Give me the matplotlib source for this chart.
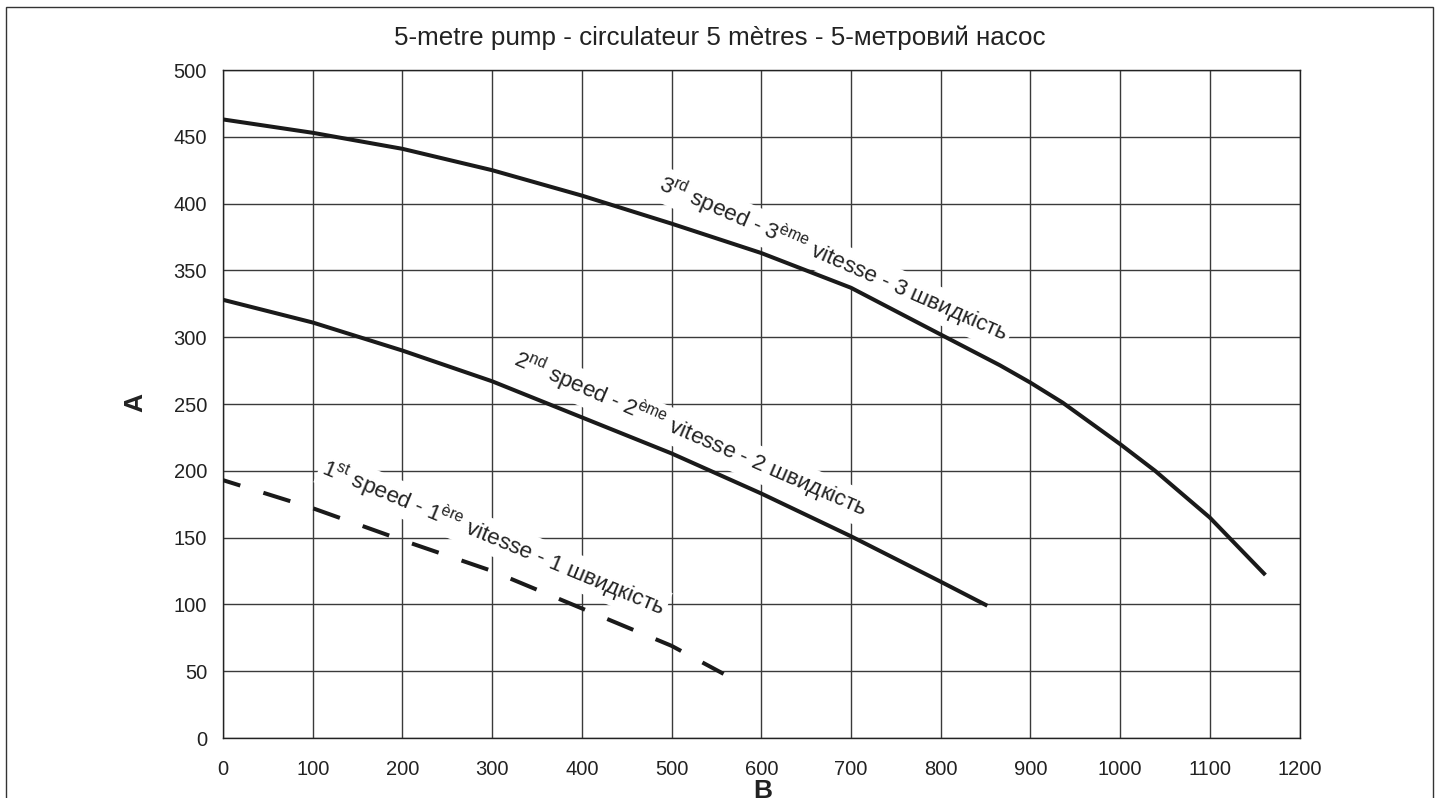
import matplotlib
matplotlib.use("Agg")
import matplotlib.pyplot as plt
from matplotlib.patches import Rectangle

plt.rcParams['font.family'] = ['Liberation Sans', 'DejaVu Sans']
plt.rcParams['mathtext.fontset'] = 'custom'
plt.rcParams['mathtext.rm'] = 'Liberation Sans'
plt.rcParams['mathtext.it'] = 'Liberation Sans:italic'
plt.rcParams['mathtext.bf'] = 'Liberation Sans:bold'

# flow (B) vs head (A)
speed3_x = [0, 100, 200, 300, 400, 500, 600, 700, 800, 866, 900, 936, 1000, 1039, 1100, 1162]
speed3_y = [463, 453, 441, 425, 406, 385, 363, 337, 302, 279, 266, 251, 220, 200, 165, 122]

speed2_x = [0, 100, 200, 300, 400, 500, 600, 700, 800, 852]
speed2_y = [328, 311, 290, 267, 240, 213, 183, 151, 117, 99]

speed1_x = [0, 100, 200, 300, 400, 500, 558]
speed1_y = [193, 172, 148, 125, 97, 69, 48]

x_ticks = list(range(0, 1201, 100))
y_ticks = list(range(0, 501, 50))

title = "5-metre pump - circulateur 5 mètres - 5-метровий насос"
label3 = r"3$^{\mathrm{rd}}$ speed - 3$^{\mathrm{ème}}$ vitesse - 3 швидкість"
label2 = r"2$^{\mathrm{nd}}$ speed - 2$^{\mathrm{ème}}$ vitesse - 2 швидкість"
label1 = r"1$^{\mathrm{st}}$ speed - 1$^{\mathrm{ère}}$ vitesse - 1 швидкість"

W, H = 1439, 798
fig = plt.figure(figsize=(W / 100, H / 100), dpi=100)
ax = fig.add_axes([223 / W, 1 - 738 / H, (1299.5 - 223) / W, (738 - 70) / H])

# outer frame (bottom edge is cut off in the original)
fig.patches.append(Rectangle((6 / W, -0.1), (1433 - 6) / W, 1.1 - 7 / H,
                             transform=fig.transFigure, fill=False,
                             ec='#333333', lw=1.0))

ax.set_xlim(0, 1200)
ax.set_ylim(0, 500)
ax.set_xticks(x_ticks)
ax.set_yticks(y_ticks)
ax.tick_params(length=0, labelsize=14.5, labelcolor='#222222')
ax.tick_params(axis='x', pad=16)
ax.tick_params(axis='y', pad=11.5)
ax.grid(True, color='#3a3a3a', lw=1.0, zorder=0.5)
ax.set_axisbelow(True)
for s in ax.spines.values():
    s.set_color('#222222')
    s.set_linewidth(1.0)

lw = 2.9
ax.plot(speed3_x, speed3_y, color='#1a1a1a', lw=lw, solid_capstyle='butt',
        solid_joinstyle='round', zorder=3)
ax.plot(speed2_x, speed2_y, color='#1a1a1a', lw=lw, solid_capstyle='butt',
        solid_joinstyle='round', zorder=3)
ax.plot(speed1_x, speed1_y, color='#1a1a1a', lw=lw, linestyle=(2.5, (7, 6)),
        dash_capstyle='butt', zorder=3)

box = dict(fc='white', ec='none', pad=2)
ax.text(484, 410, label3, rotation=-23.6, rotation_mode='anchor', ha='left',
        va='baseline', fontsize=16.2, color='#222222', bbox=box, zorder=2)
ax.text(322, 279, label2, rotation=-23.4, rotation_mode='anchor', ha='left',
        va='baseline', fontsize=16.2, color='#222222', bbox=box, zorder=2)
ax.text(108, 198, label1, rotation=-22.6, rotation_mode='anchor', ha='left',
        va='baseline', fontsize=16.2, color='#222222', bbox=box, zorder=2)

fig.text(0.5, 1 - 38 / H, title, ha='center', va='center', fontsize=18.7, color='#222222')
fig.text(135 / W, 1 - 403 / H, "A", rotation=90, ha='center', va='center',
         fontsize=19, fontweight='bold', color='#222222')
fig.text(763 / W, 1 - 779 / H, "B", ha='center', va='top',
         fontsize=19, fontweight='bold', color='#222222')

fig.savefig("out.png", dpi=100, facecolor='white')
